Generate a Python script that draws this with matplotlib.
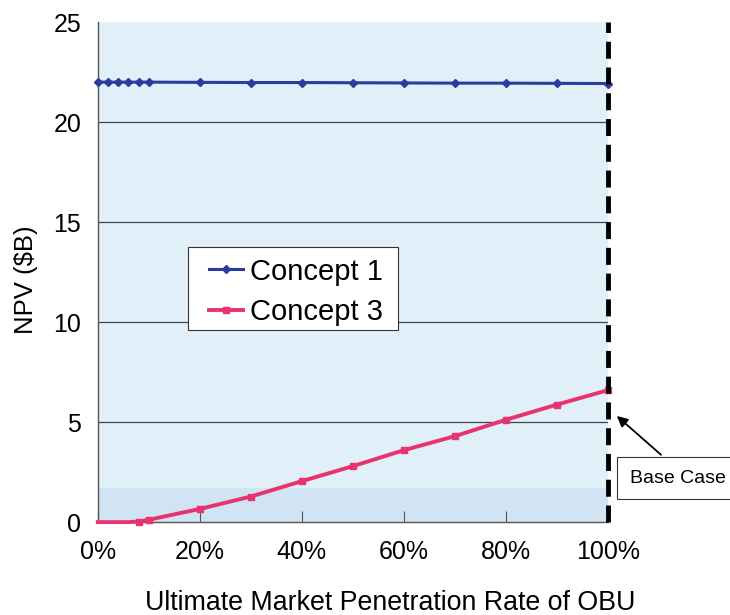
import matplotlib
matplotlib.use("Agg")
import matplotlib.pyplot as plt
from matplotlib.patches import Rectangle
from matplotlib.ticker import FuncFormatter

plt.rcParams['font.family'] = ['Liberation Sans', 'DejaVu Sans']

# Ultimate market penetration rate (%)
penetration = [0, 2, 4, 6, 8, 10, 20, 30, 40, 50, 60, 70, 80, 90, 100]
# NPV ($B)
concept1 = [22.0, 22.0, 22.0, 22.0, 22.0, 22.0, 21.99, 21.98, 21.98, 21.97,
            21.96, 21.95, 21.95, 21.94, 21.93]
concept3 = [0.0, 0.0, 0.0, 0.0, 0.03, 0.12, 0.66, 1.28, 2.05, 2.8,
            3.6, 4.3, 5.12, 5.88, 6.6]
x_ticks = [0, 20, 40, 60, 80, 100]
y_ticks = [0, 5, 10, 15, 20, 25]
base_case = 100

fig = plt.figure(figsize=(7.3, 6.15), dpi=100)
ax = fig.add_axes([0.134, 0.151, 0.699, 0.813])
ax.set_facecolor('#e1eff9')
ax.axhspan(0, 1.7, color='#d0e4f3', zorder=0, lw=0)

ax.set_xlim(0, 100)
ax.set_ylim(0, 25)
ax.set_yticks(y_ticks)
ax.set_xticks(x_ticks)
ax.xaxis.set_major_formatter(FuncFormatter(lambda v, p: f"{int(v)}%"))
ax.tick_params(axis='both', labelsize=18, colors='black')
ax.tick_params(axis='y', length=0, pad=12)
ax.tick_params(axis='x', direction='in', length=8, color='#555555', pad=13)

for y in y_ticks[1:-1]:
    ax.axhline(y, color='#444455', lw=0.9, zorder=1)

for s in ['top', 'right']:
    ax.spines[s].set_visible(False)
for s in ['left', 'bottom']:
    ax.spines[s].set_color('#555555')
    ax.spines[s].set_linewidth(1.0)

ax.plot(penetration, concept1, color='#2c3c9e', lw=2.2, marker='D', ms=4,
        label='Concept 1', zorder=3, clip_on=False)
ax.plot(penetration, concept3, color='#e8336e', lw=2.8, marker='s', ms=4,
        markevery=list(range(4, len(penetration))),
        label='Concept 3', zorder=3, clip_on=False)

ax.axvline(base_case, color='black', lw=3.5, ls=(0, (3.5, 1.8)), zorder=4,
           clip_on=False)

fig.text(390 / 730, 1 - 603 / 615, 'Ultimate Market Penetration Rate of OBU',
         fontsize=19.3, ha='center', va='center')
fig.text(26 / 730, 1 - 280 / 615, 'NPV ($B)', fontsize=18.5, rotation=90,
         ha='center', va='center')

# legend box with wide side margins
ax.add_patch(Rectangle((0.176, 0.384), 0.412, 0.166, transform=ax.transAxes,
                       fc='white', ec='#333333', lw=0.8, zorder=5))
leg = ax.legend(loc='upper left', bbox_to_anchor=(0.218, 0.529), fontsize=21,
                frameon=False, handlelength=1.15, handletextpad=0.25,
                borderpad=0, borderaxespad=0, labelspacing=0.42)
leg.set_zorder(6)

ax.annotate('Base Case', xy=(101.3, 5.4), xytext=(104.3, 2.2),
            fontsize=14, ha='left', va='center', annotation_clip=False,
            bbox=dict(boxstyle='square,pad=0.65', fc='white', ec='#333333', lw=0.8),
            arrowprops=dict(arrowstyle='-|>', color='black', lw=1.3,
                            mutation_scale=16, relpos=(0.5, 1.0)))

fig.savefig('out.png', dpi=100)
